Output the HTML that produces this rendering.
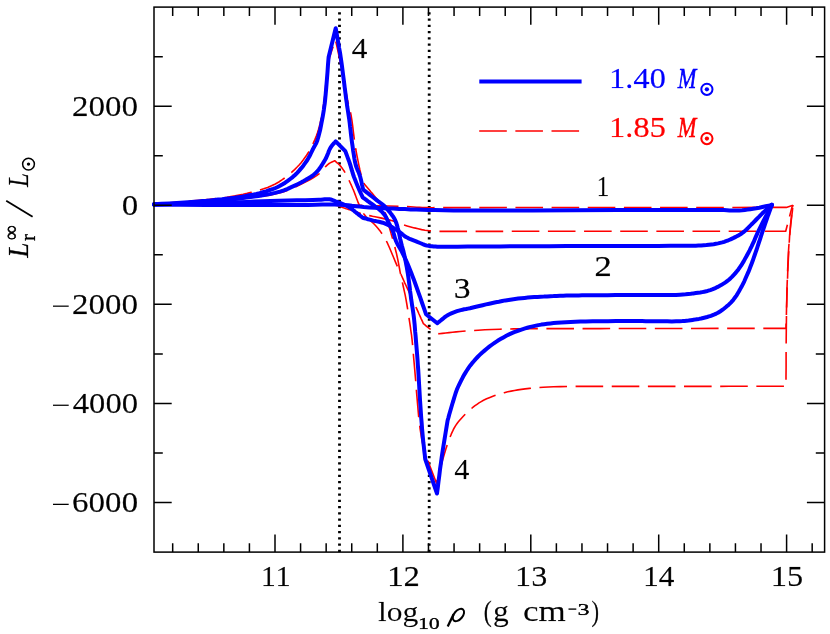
<!DOCTYPE html>
<html><head><meta charset="utf-8"><title>L_r vs log rho</title>
<style>html,body{margin:0;padding:0;background:#fff;}body{width:830px;height:634px;overflow:hidden;font-family:"Liberation Serif",serif;}svg{display:block;}text{font-family:"Liberation Serif",serif;font-kerning:none;}</style>
</head><body>
<svg width="830" height="634" viewBox="0 0 830 634">
<rect x="0" y="0" width="830" height="634" fill="#ffffff"/>
<line x1="339.5" y1="12.28" x2="339.5" y2="552.1" stroke="#000" stroke-width="2.8" stroke-dasharray="2.1 4.15" fill="none"/>
<line x1="429.2" y1="12.28" x2="429.2" y2="552.1" stroke="#000" stroke-width="2.8" stroke-dasharray="2.1 4.15" fill="none"/>
<polyline points="154.0,205.0 186.1,205.0 219.5,204.9 252.9,204.8 284.9,204.8 314.4,204.8 340.0,205.0 353.5,205.2 366.2,205.4 377.9,205.7 388.6,206.0 398.2,206.3 406.5,206.6 410.3,206.8 413.6,207.0 416.6,207.2 419.4,207.3 422.2,207.5 425.0,207.6 427.6,207.6 430.1,207.7 432.6,207.7 435.1,207.6 437.5,207.6 440.0,207.6 786.3,207.4 792.9,205.3" stroke="#ff0000" stroke-width="1.6" fill="none" stroke-dasharray="27.6 8.55" stroke-linejoin="round"/>
<polyline points="154.0,205.0 170.4,205.0 187.1,205.0 203.9,205.0 220.3,205.0 235.8,205.0 250.0,205.0 259.4,205.0 268.2,205.0 276.6,205.0 284.6,205.0 292.4,205.0 300.0,205.0 306.4,204.9 312.9,204.7 319.2,204.5 325.2,204.4 330.5,204.6 335.0,205.0 337.1,205.4 338.9,206.0 340.5,206.5 342.0,207.2 343.5,207.8 345.0,208.3 346.2,208.7 347.4,209.0 348.5,209.4 349.6,209.7 350.7,210.1 352.0,210.5 353.8,211.1 355.8,211.8 357.9,212.5 360.0,213.2 361.9,213.8 363.7,214.3 364.7,214.6 365.6,214.8 366.5,215.0 367.4,215.1 368.3,215.3 369.5,215.6 372.5,216.3 376.3,217.0 380.5,217.9 384.8,218.9 388.9,219.9 392.4,220.8 394.5,221.5 396.4,222.2 398.2,222.9 399.9,223.6 401.8,224.3 403.9,225.0 407.1,225.9 410.7,226.9 414.4,227.9 418.1,228.8 421.7,229.6 425.0,230.2 427.2,230.5 429.2,230.8 431.2,230.9 433.1,231.1 435.0,231.2 437.0,231.4 464.0,231.4 490.9,231.4 517.8,231.3 544.9,231.3 572.2,231.3 600.0,231.3 630.2,231.3 661.0,231.3 692.1,231.2 723.4,231.2 754.6,231.2 785.7,231.2 792.3,206.0" stroke="#ff0000" stroke-width="1.6" fill="none" stroke-dasharray="27.6 8.55" stroke-linejoin="round"/>
<polyline points="154.0,204.6 161.7,204.4 169.3,204.2 177.0,204.0 184.7,203.8 192.3,203.4 200.0,203.0 207.8,202.4 215.6,201.7 223.4,201.0 231.2,200.1 238.7,199.2 246.0,198.3 252.1,197.5 258.1,196.8 263.9,196.0 269.6,195.1 275.0,194.0 280.0,192.8 283.7,191.7 287.2,190.5 290.4,189.2 293.6,187.8 296.8,186.3 300.0,184.8 303.4,183.1 306.8,181.3 310.3,179.5 313.6,177.5 316.6,175.6 319.3,173.6 321.0,172.0 322.6,170.4 324.0,168.7 325.3,167.0 326.6,165.6 328.0,164.3 329.1,163.5 330.2,162.9 331.4,162.3 332.5,161.8 333.6,161.3 334.7,160.7 335.5,161.4 336.3,162.1 337.1,162.8 337.9,163.5 338.7,164.2 339.5,165.0 340.3,165.9 341.2,166.9 342.0,167.9 342.7,169.0 343.5,170.1 344.3,171.3 345.2,172.9 346.2,174.6 347.1,176.4 348.0,178.2 348.9,180.0 349.7,181.8 350.5,183.5 351.3,185.2 352.0,186.8 352.7,188.5 353.5,190.2 354.2,192.0 355.0,194.1 355.8,196.2 356.6,198.4 357.4,200.5 358.2,202.7 359.1,204.7 359.9,206.4 360.6,208.1 361.4,209.8 362.2,211.4 363.2,213.0 364.3,214.6 365.9,216.5 367.7,218.3 369.8,220.1 371.8,221.9 373.8,223.7 375.5,225.5 376.8,227.0 378.1,228.5 379.3,230.1 380.5,231.6 381.5,233.0 382.5,234.4 383.2,235.4 383.8,236.3 384.3,237.2 384.9,238.1 385.4,239.1 386.1,240.4 387.7,243.7 389.5,247.8 391.5,252.5 393.5,257.3 395.5,262.1 397.4,266.4 398.9,269.7 400.3,272.9 401.7,276.0 403.1,279.1 404.5,282.3 406.0,285.5 407.7,289.2 409.5,293.0 411.3,296.9 413.1,300.8 414.8,304.6 416.4,308.1 417.7,310.9 418.8,313.5 420.0,316.1 421.1,318.6 422.3,321.1 423.4,323.7 424.7,324.7 426.0,325.8 427.3,326.9 428.6,327.9 429.9,328.9 431.2,329.8 432.5,330.6 433.8,331.3 435.1,331.9 436.4,332.5 437.7,333.2 439.0,333.8 442.4,333.4 445.7,333.0 449.1,332.6 452.5,332.2 456.1,331.9 460.0,331.5 465.7,331.0 471.7,330.6 478.1,330.2 484.9,329.8 492.1,329.5 500.0,329.2 513.7,328.9 528.9,328.7 545.3,328.6 562.7,328.6 581.0,328.6 600.0,328.6 627.7,328.5 657.8,328.5 689.4,328.5 721.9,328.4 754.3,328.4 786.0,328.4 786.1,323.7 786.3,319.1 786.4,314.5 786.5,309.8 786.6,305.0 786.8,300.0 787.0,293.7 787.2,287.1 787.5,280.3 787.7,273.4 788.0,266.6 788.3,260.0 788.6,253.9 788.9,247.8 789.3,241.7 789.6,235.9 790.1,230.2 790.5,225.0 790.9,221.3 791.3,217.9 791.7,214.6 792.1,211.5 792.6,208.3 793.0,205.0" stroke="#ff0000" stroke-width="1.6" fill="none" stroke-dasharray="27.6 8.55" stroke-linejoin="round" stroke-dashoffset="1.3"/>
<polyline points="154.0,204.3 161.8,203.6 169.8,202.9 177.8,202.2 185.6,201.6 193.0,200.9 200.0,200.2 204.9,199.7 209.6,199.3 214.1,198.8 218.4,198.3 222.7,197.8 227.0,197.2 231.1,196.5 235.2,195.9 239.2,195.1 243.2,194.3 247.2,193.4 251.2,192.4 255.3,191.3 259.4,190.1 263.6,188.8 267.6,187.4 271.5,185.8 275.3,184.0 278.8,182.0 282.3,179.7 285.6,177.3 288.8,174.8 291.8,172.2 294.6,169.6 296.9,167.3 299.1,165.0 301.1,162.7 303.0,160.3 304.8,157.8 306.6,155.2 308.5,152.2 310.2,149.1 311.9,145.9 313.5,142.7 315.0,139.4 316.3,136.1 317.4,133.0 318.4,129.8 319.3,126.6 320.1,123.4 320.8,120.2 321.5,117.0 322.1,113.9 322.7,110.9 323.1,107.9 323.6,104.8 324.0,101.5 324.5,98.0 325.1,92.6 325.6,86.5 326.2,80.1 326.8,73.7 327.5,67.6 328.5,62.0 329.5,58.0 330.6,54.2 331.8,50.6 333.0,47.1 334.3,43.6 335.5,40.0 336.8,45.9 338.1,51.9 339.4,57.9 340.7,63.8 341.9,69.5 343.0,75.0 343.8,79.5 344.6,83.9 345.3,88.1 346.1,92.3 346.8,96.2 347.5,100.0 348.1,102.7 348.7,105.2 349.3,107.5 349.9,109.9 350.5,112.5 351.1,115.4 351.9,120.4 352.7,126.1 353.4,132.1 354.2,138.3 355.0,144.3 355.9,150.0 356.8,154.9 357.8,159.9 358.8,164.8 359.8,169.5 360.8,173.6 361.7,177.0 362.1,178.4 362.6,179.7 363.0,180.8 363.4,181.8 363.9,182.8 364.3,183.9 366.0,185.9 367.7,187.9 369.4,190.0 371.0,192.0 372.7,193.9 374.2,195.8 375.4,197.2 376.6,198.6 377.8,199.9 378.9,201.2 380.0,202.5 381.0,204.0 382.0,205.7 382.9,207.4 383.7,209.3 384.5,211.2 385.3,213.1 386.0,215.0 386.7,217.1 387.3,219.2 387.9,221.4 388.4,223.7 388.9,225.8 389.5,228.0 390.1,230.0 390.7,232.0 391.2,233.9 391.8,235.9 392.4,237.9 393.0,240.0 393.7,242.5 394.4,245.1 395.0,247.8 395.7,250.5 396.4,253.2 397.0,256.0 397.7,259.1 398.3,262.2 398.9,265.3 399.5,268.5 400.1,271.8 400.8,275.1 401.6,279.0 402.5,282.9 403.4,287.0 404.3,291.1 405.2,295.2 406.0,299.4 406.8,304.0 407.6,308.9 408.4,313.8 409.1,318.6 409.8,323.2 410.4,327.2 410.7,329.6 411.0,331.6 411.3,333.6 411.6,335.5 411.8,337.6 412.1,340.0 412.5,344.1 412.9,348.4 413.3,353.2 413.7,358.2 414.2,363.6 414.7,369.4 415.6,379.7 416.5,391.6 417.6,404.4 418.7,417.1 420.1,428.8 421.7,438.8 422.8,444.0 424.1,448.6 425.4,452.8 426.8,456.8 428.2,460.9 429.5,465.1 436.5,483.3 437.2,480.4 438.0,477.5 438.7,474.6 439.5,471.8 440.2,468.9 441.0,466.0 441.8,463.1 442.6,460.1 443.5,457.1 444.3,454.2 445.2,451.3 446.0,448.6 446.7,446.4 447.4,444.3 448.1,442.3 448.8,440.3 449.6,438.4 450.3,436.5 451.0,434.9 451.6,433.3 452.3,431.8 453.0,430.4 453.7,428.9 454.5,427.5 455.3,426.2 456.1,424.9 456.9,423.7 457.8,422.5 458.8,421.3 459.9,420.0 461.5,418.2 463.3,416.3 465.2,414.3 467.2,412.4 469.2,410.5 471.2,408.8 473.1,407.2 475.0,405.7 477.0,404.3 479.0,402.9 481.2,401.6 483.5,400.3 486.6,398.8 489.9,397.4 493.5,396.1 497.1,394.8 500.7,393.7 504.3,392.7 507.7,391.8 511.1,391.1 514.5,390.5 517.9,389.9 521.4,389.4 525.1,388.9 529.5,388.4 534.0,388.0 538.6,387.6 543.3,387.3 548.3,387.0 553.5,386.8 560.4,386.6 567.5,386.5 574.9,386.4 582.8,386.4 591.1,386.4 600.0,386.4 614.6,386.4 630.8,386.4 648.1,386.4 665.8,386.4 683.3,386.4 700.0,386.4 714.7,386.4 729.1,386.3 743.4,386.3 757.6,386.3 771.7,386.2 786.0,386.2 786.0,376.8 786.1,367.3 786.1,357.9 786.1,348.5 786.2,339.2 786.3,330.0 786.4,321.4 786.5,312.9 786.7,304.5 786.8,296.1 787.0,288.0 787.3,280.0 787.5,273.0 787.8,266.2 788.1,259.5 788.4,253.0 788.8,246.5 789.3,240.0 789.8,234.0 790.4,228.2 791.0,222.3 791.7,216.6 792.4,210.8 793.0,205.0" stroke="#ff0000" stroke-width="1.6" fill="none" stroke-dasharray="27.6 8.55" stroke-linejoin="round" stroke-dashoffset="1.3"/>
<polyline points="154.0,204.8 179.4,204.8 206.0,204.9 232.7,205.0 258.1,205.0 281.0,205.0 300.0,205.0 308.2,204.9 315.6,204.8 322.2,204.6 328.4,204.5 334.2,204.5 340.0,204.7 344.3,205.0 348.2,205.3 351.9,205.8 355.7,206.2 359.5,206.6 363.7,207.0 369.2,207.4 375.0,207.7 381.0,208.1 387.1,208.4 393.2,208.6 399.2,208.9 405.0,209.1 410.6,209.4 416.3,209.6 422.1,209.8 428.2,210.0 434.7,210.1 444.0,210.3 453.6,210.4 463.7,210.4 474.7,210.5 486.7,210.5 500.0,210.5 532.1,210.5 573.0,210.3 617.5,210.1 660.4,210.0 696.3,209.9 720.0,210.0 723.9,210.1 726.9,210.2 729.5,210.4 731.8,210.5 734.1,210.5 736.6,210.5 739.3,210.4 742.1,210.2 744.8,209.9 747.5,209.6 750.3,209.2 753.1,208.8 756.2,208.3 759.3,207.7 762.4,207.0 765.6,206.3 768.8,205.6 771.9,204.9" stroke="#0000ff" stroke-width="4.0" fill="none" stroke-linejoin="round" stroke-linecap="round"/>
<polyline points="154.0,204.3 165.5,204.1 177.1,203.9 188.7,203.7 200.2,203.4 211.3,203.2 222.0,202.9 230.6,202.6 238.8,202.3 246.8,201.9 254.6,201.6 262.5,201.3 270.5,201.0 278.9,200.8 287.9,200.5 296.8,200.3 305.2,200.2 312.7,200.0 318.7,199.8 321.0,199.7 323.0,199.5 324.7,199.3 326.4,199.2 327.9,199.2 329.5,199.3 330.8,199.5 332.0,199.9 333.2,200.3 334.4,200.8 335.6,201.3 336.7,201.7 337.7,202.1 338.8,202.5 339.8,202.8 340.8,203.2 341.8,203.7 342.8,204.1 344.0,204.6 345.2,205.2 346.4,205.8 347.7,206.4 348.9,207.0 350.0,207.7 351.1,208.4 352.1,209.2 353.0,210.0 354.0,210.8 355.0,211.7 356.0,212.5 357.1,213.4 358.2,214.2 359.3,215.1 360.5,216.0 361.6,216.8 362.7,217.7 364.5,218.2 366.2,218.7 368.0,219.2 369.7,219.6 371.5,220.1 373.3,220.6 375.2,221.0 377.0,221.4 378.9,221.8 380.8,222.2 382.7,222.7 384.6,223.4 387.0,224.5 389.6,225.8 392.2,227.3 394.7,228.9 397.1,230.4 399.2,231.8 400.5,232.7 401.6,233.6 402.6,234.5 403.6,235.3 404.7,236.2 406.0,237.0 408.1,238.1 410.4,239.2 412.9,240.2 415.5,241.2 417.9,242.2 420.0,243.0 421.3,243.5 422.4,244.0 423.5,244.5 424.6,244.9 425.7,245.3 426.9,245.6 428.5,245.9 430.2,246.2 432.0,246.3 433.7,246.5 435.5,246.6 437.3,246.8 447.6,246.7 457.7,246.7 467.7,246.6 478.0,246.5 488.7,246.5 500.0,246.4 515.5,246.3 532.0,246.3 549.2,246.2 566.6,246.1 583.7,246.1 600.0,246.0 614.6,246.0 629.6,245.9 644.4,245.9 658.2,245.9 670.3,245.8 680.0,245.8 683.3,245.8 686.2,245.8 688.7,245.8 691.0,245.8 693.3,245.8 695.8,245.7 698.4,245.6 701.1,245.5 703.8,245.3 706.4,245.1 709.0,244.8 711.5,244.5 713.7,244.2 715.9,243.8 718.1,243.4 720.2,242.9 722.2,242.4 724.2,241.8 725.9,241.2 727.5,240.7 729.0,240.0 730.5,239.4 732.1,238.6 733.6,237.9 735.2,237.1 736.8,236.3 738.4,235.4 740.0,234.5 741.6,233.5 743.1,232.4 744.8,231.0 746.5,229.5 748.1,227.9 749.8,226.2 751.4,224.5 753.1,222.8 754.9,221.0 756.8,219.0 758.7,217.1 760.6,215.1 762.4,213.3 764.2,211.6 765.5,210.4 766.8,209.2 768.1,208.1 769.4,207.1 770.6,206.0 771.9,204.9" stroke="#0000ff" stroke-width="4.0" fill="none" stroke-linejoin="round" stroke-linecap="round"/>
<polyline points="154.0,204.5 161.7,204.2 169.3,203.9 177.0,203.7 184.7,203.4 192.3,203.0 200.0,202.5 207.8,201.9 215.7,201.2 223.7,200.4 231.5,199.5 239.1,198.6 246.4,197.6 252.4,196.8 258.4,195.9 264.1,195.0 269.7,194.1 275.0,192.9 280.0,191.6 283.9,190.3 287.7,188.8 291.3,187.2 294.7,185.6 297.6,184.2 300.0,183.0 300.9,182.6 301.6,182.2 302.2,181.9 302.8,181.5 303.4,181.2 304.2,180.7 305.8,179.8 307.6,178.7 309.6,177.6 311.6,176.3 313.6,174.8 315.4,173.3 317.2,171.4 319.0,169.2 320.7,166.9 322.2,164.5 323.7,162.1 325.1,159.8 326.2,157.7 327.2,155.4 328.1,153.2 328.9,151.0 329.8,149.0 330.8,147.2 331.6,146.1 332.4,145.0 333.2,144.1 334.0,143.2 334.9,142.3 335.7,141.4 345.3,151.1 346.1,153.3 346.9,155.4 347.7,157.6 348.5,159.8 349.3,161.9 350.0,164.0 350.6,165.9 351.1,167.7 351.6,169.5 352.2,171.3 352.7,173.2 353.3,175.0 354.0,177.0 354.8,179.0 355.6,181.0 356.4,183.1 357.2,185.1 358.0,187.0 358.8,188.8 359.5,190.5 360.3,192.3 361.1,194.0 361.9,195.7 362.7,197.4 364.3,198.5 365.9,199.7 367.4,200.8 369.0,202.0 370.6,203.1 372.1,204.2 373.5,205.2 375.0,206.3 376.5,207.3 377.9,208.3 379.2,209.4 380.4,210.4 381.3,211.2 382.2,212.1 382.9,212.9 383.7,213.8 384.4,214.6 385.1,215.6 385.8,216.7 386.4,217.9 387.0,219.1 387.6,220.4 388.2,221.6 388.8,222.9 389.5,224.3 390.2,225.6 390.9,227.0 391.6,228.4 392.3,229.8 392.9,231.3 393.5,232.9 393.9,234.4 394.4,236.0 394.8,237.7 395.4,239.3 396.0,241.0 397.0,243.1 398.1,245.2 399.4,247.4 400.6,249.6 401.9,251.8 403.0,254.0 404.0,256.0 404.9,258.0 405.8,259.9 406.7,261.9 407.6,263.9 408.5,266.0 409.5,268.5 410.5,270.9 411.5,273.5 412.5,276.2 413.6,279.0 414.7,282.0 416.4,286.7 418.2,291.9 420.2,297.4 422.1,303.0 424.1,308.7 426.0,314.2 437.3,323.2 439.0,321.8 440.7,320.5 442.4,319.1 444.1,317.7 445.8,316.4 447.6,315.3 449.4,314.3 451.3,313.4 453.2,312.6 455.1,311.9 457.0,311.2 458.9,310.6 460.7,310.1 462.5,309.7 464.2,309.3 466.1,309.0 468.0,308.6 470.0,308.2 472.9,307.5 476.0,306.8 479.3,306.0 482.7,305.2 486.0,304.4 489.3,303.7 492.5,303.0 495.7,302.3 498.9,301.7 502.2,301.0 505.4,300.4 508.6,299.9 511.8,299.4 515.0,299.0 518.2,298.6 521.4,298.2 524.6,297.9 527.8,297.6 531.0,297.3 534.2,297.1 537.4,296.9 540.7,296.7 543.9,296.6 547.1,296.4 550.3,296.2 553.5,296.1 556.7,295.9 560.0,295.8 563.2,295.7 566.4,295.6 569.5,295.5 572.5,295.5 575.6,295.4 578.7,295.4 582.0,295.3 585.7,295.3 592.2,295.2 599.6,295.2 607.6,295.2 615.6,295.1 623.2,295.1 630.0,295.1 634.3,295.1 638.3,295.1 642.1,295.1 645.8,295.1 649.6,295.1 653.5,295.1 657.9,295.1 662.5,295.1 667.1,295.0 671.6,295.0 676.0,294.9 680.0,294.7 682.9,294.5 685.6,294.3 688.3,294.0 690.8,293.8 693.3,293.4 695.8,293.1 698.0,292.8 700.2,292.5 702.3,292.1 704.3,291.7 706.4,291.3 708.4,290.7 710.3,290.1 712.2,289.4 714.1,288.6 715.9,287.8 717.7,286.9 719.4,286.0 721.1,285.1 722.7,284.1 724.3,283.1 725.8,282.1 727.4,280.9 728.9,279.7 730.6,278.2 732.2,276.6 733.8,274.9 735.4,273.1 736.9,271.3 738.4,269.4 739.8,267.4 741.2,265.4 742.5,263.2 743.8,261.1 745.0,258.9 746.2,256.8 747.3,254.7 748.4,252.7 749.5,250.6 750.5,248.5 751.6,246.4 752.6,244.2 753.7,241.9 754.7,239.5 755.7,237.1 756.8,234.7 757.8,232.3 758.9,230.0 760.0,227.8 761.1,225.6 762.2,223.4 763.3,221.3 764.4,219.1 765.5,217.0 766.6,215.0 767.6,212.9 768.7,210.9 769.8,208.9 770.8,206.9 771.9,204.9" stroke="#0000ff" stroke-width="4.0" fill="none" stroke-linejoin="round" stroke-linecap="round"/>
<polyline points="154.0,204.3 161.5,203.8 169.2,203.4 176.8,202.9 184.3,202.5 191.4,202.0 198.0,201.5 202.4,201.1 206.5,200.8 210.5,200.4 214.3,200.0 218.1,199.6 222.0,199.2 226.0,198.7 230.1,198.3 234.2,197.8 238.2,197.2 242.1,196.7 246.0,196.0 249.5,195.3 253.0,194.6 256.4,193.9 259.7,193.1 262.9,192.2 266.0,191.3 268.5,190.5 270.9,189.7 273.2,188.9 275.5,188.0 277.7,187.0 280.0,185.8 282.6,184.3 285.2,182.7 287.7,180.9 290.2,179.0 292.7,177.1 295.0,175.0 297.2,172.8 299.4,170.4 301.5,167.9 303.5,165.4 305.3,162.9 307.0,160.5 308.2,158.5 309.3,156.6 310.3,154.6 311.2,152.7 312.1,150.8 313.0,149.0 313.8,147.6 314.5,146.2 315.3,144.9 316.0,143.6 316.6,142.2 317.3,140.5 318.2,137.5 319.1,134.1 320.0,130.5 320.8,126.7 321.5,122.9 322.2,119.3 322.8,116.1 323.3,113.1 323.8,110.1 324.2,107.0 324.7,103.7 325.1,100.0 325.7,93.9 326.3,87.0 326.9,79.7 327.5,72.2 328.0,64.6 328.6,57.3 335.7,28.2 336.6,33.1 337.4,38.0 338.3,42.9 339.1,47.8 340.0,52.6 340.7,57.3 341.3,61.4 341.9,65.5 342.4,69.5 342.9,73.4 343.4,77.2 343.9,81.0 344.3,84.3 344.7,87.5 345.1,90.6 345.5,93.7 345.9,96.9 346.3,100.0 346.8,103.2 347.2,106.4 347.7,109.5 348.2,112.7 348.7,116.0 349.2,119.3 349.7,123.0 350.1,126.8 350.6,130.7 351.0,134.6 351.5,138.5 352.0,142.4 352.6,146.4 353.1,150.5 353.8,154.6 354.4,158.6 355.1,162.3 355.9,165.5 356.5,167.3 357.1,168.9 357.7,170.4 358.4,171.8 359.0,173.3 359.6,175.0 360.3,177.2 360.9,179.6 361.5,182.1 362.0,184.6 362.6,187.1 363.2,189.6 365.2,191.2 367.3,192.8 369.3,194.4 371.3,196.0 373.3,197.5 375.2,199.0 376.9,200.3 378.5,201.5 380.1,202.7 381.7,203.8 383.2,205.0 384.6,206.3 385.8,207.5 386.9,208.7 387.9,209.9 388.9,211.1 389.9,212.3 390.8,213.5 391.6,214.5 392.3,215.5 393.1,216.5 393.7,217.6 394.4,218.6 395.0,219.8 395.6,221.2 396.2,222.7 396.7,224.3 397.2,225.9 397.6,227.5 398.1,229.2 398.6,231.1 399.0,233.0 399.4,234.9 399.8,236.9 400.2,238.9 400.7,241.0 401.3,243.4 401.9,245.8 402.6,248.3 403.3,250.8 403.9,253.4 404.5,256.0 405.1,258.8 405.7,261.6 406.2,264.4 406.8,267.3 407.3,270.3 407.8,273.4 408.4,277.5 409.0,281.9 409.6,286.4 410.1,290.9 410.7,295.3 411.2,299.4 411.7,302.5 412.1,305.4 412.6,308.2 413.0,310.9 413.4,313.8 413.8,316.8 414.2,320.4 414.6,324.2 414.9,328.0 415.2,331.9 415.6,335.9 415.9,340.0 416.3,344.7 416.7,349.5 417.1,354.4 417.5,359.4 417.8,364.4 418.2,369.4 418.5,374.4 418.8,379.5 419.1,384.5 419.4,389.6 419.7,394.8 420.0,400.0 420.4,405.7 420.8,411.6 421.2,417.6 421.7,423.5 422.1,429.3 422.6,434.7 423.0,439.0 423.4,443.1 423.9,447.1 424.3,451.1 424.8,455.0 425.2,459.0 437.0,493.5 437.8,487.5 438.5,481.4 439.3,475.4 440.0,469.4 440.9,463.3 441.7,457.3 442.6,451.2 443.6,445.0 444.6,438.9 445.6,432.8 446.6,426.6 447.6,420.5 448.4,417.8 449.1,415.0 449.9,412.3 450.7,409.5 451.5,406.8 452.3,404.0 453.2,401.2 454.0,398.4 454.9,395.5 455.8,392.7 456.8,389.8 458.0,387.0 459.5,383.8 461.1,380.6 462.8,377.3 464.6,374.1 466.5,371.0 468.4,368.1 470.1,365.7 471.9,363.4 473.8,361.2 475.6,359.1 477.6,357.0 479.7,354.9 482.0,352.7 484.5,350.6 487.0,348.5 489.6,346.4 492.2,344.5 494.9,342.6 497.6,340.8 500.5,339.1 503.4,337.4 506.3,335.8 509.1,334.4 511.9,333.1 514.2,332.1 516.4,331.3 518.6,330.5 520.7,329.8 522.9,329.1 525.1,328.4 527.3,327.8 529.4,327.2 531.6,326.6 533.8,326.1 536.0,325.6 538.4,325.1 541.3,324.6 544.2,324.2 547.2,323.8 550.4,323.4 553.6,323.1 557.0,322.8 561.3,322.5 565.9,322.2 570.6,322.0 575.4,321.8 580.5,321.6 585.7,321.5 592.7,321.3 600.3,321.2 608.1,321.2 615.9,321.1 623.3,321.1 630.0,321.1 634.3,321.1 638.3,321.1 642.1,321.1 645.8,321.2 649.6,321.2 653.5,321.2 657.9,321.2 662.6,321.3 667.3,321.3 671.8,321.4 676.1,321.3 680.0,321.2 682.4,321.1 684.5,320.9 686.6,320.7 688.6,320.5 690.6,320.2 692.6,319.9 694.7,319.6 696.8,319.2 699.0,318.9 701.1,318.5 703.2,318.0 705.2,317.5 707.1,317.0 709.0,316.4 710.9,315.8 712.7,315.1 714.5,314.4 716.3,313.6 718.0,312.7 719.6,311.7 721.2,310.7 722.7,309.6 724.2,308.5 725.7,307.3 727.1,306.1 728.5,304.9 729.8,303.6 731.1,302.3 732.4,300.9 733.6,299.4 735.0,297.5 736.4,295.6 737.7,293.5 739.0,291.3 740.2,289.1 741.5,286.8 742.9,284.1 744.3,281.3 745.6,278.3 746.9,275.3 748.2,272.4 749.4,269.4 750.5,266.5 751.6,263.7 752.7,260.8 753.7,257.9 754.7,255.0 755.7,252.1 756.8,249.0 757.8,245.8 758.9,242.5 760.0,239.3 761.0,236.2 762.0,233.2 762.8,230.7 763.6,228.3 764.4,226.0 765.2,223.7 766.0,221.3 766.8,219.0 767.6,216.6 768.5,214.3 769.3,211.9 770.2,209.6 771.0,207.2 771.9,204.9" stroke="#0000ff" stroke-width="4.0" fill="none" stroke-linejoin="round" stroke-linecap="round"/>
<rect x="154.0" y="7.1" width="670.6" height="545.0" fill="none" stroke="#000" stroke-width="1.5"/>
<path d="M172.68 552.1 v-8.8 M172.68 7.1 v8.8 M198.26 552.1 v-8.8 M198.26 7.1 v8.8 M223.84 552.1 v-8.8 M223.84 7.1 v8.8 M249.42 552.1 v-8.8 M249.42 7.1 v8.8 M275.00 552.1 v-17.7 M275.00 7.1 v17.7 M300.58 552.1 v-8.8 M300.58 7.1 v8.8 M326.16 552.1 v-8.8 M326.16 7.1 v8.8 M351.74 552.1 v-8.8 M351.74 7.1 v8.8 M377.32 552.1 v-8.8 M377.32 7.1 v8.8 M402.90 552.1 v-17.7 M402.90 7.1 v17.7 M428.48 552.1 v-8.8 M428.48 7.1 v8.8 M454.06 552.1 v-8.8 M454.06 7.1 v8.8 M479.64 552.1 v-8.8 M479.64 7.1 v8.8 M505.22 552.1 v-8.8 M505.22 7.1 v8.8 M530.80 552.1 v-17.7 M530.80 7.1 v17.7 M556.38 552.1 v-8.8 M556.38 7.1 v8.8 M581.96 552.1 v-8.8 M581.96 7.1 v8.8 M607.54 552.1 v-8.8 M607.54 7.1 v8.8 M633.12 552.1 v-8.8 M633.12 7.1 v8.8 M658.70 552.1 v-17.7 M658.70 7.1 v17.7 M684.28 552.1 v-8.8 M684.28 7.1 v8.8 M709.86 552.1 v-8.8 M709.86 7.1 v8.8 M735.44 552.1 v-8.8 M735.44 7.1 v8.8 M761.02 552.1 v-8.8 M761.02 7.1 v8.8 M786.60 552.1 v-17.7 M786.60 7.1 v17.7 M812.18 552.1 v-8.8 M812.18 7.1 v8.8 M154.0 502.55 h17.7 M824.6 502.55 h-17.7 M154.0 453.01 h8.8 M824.6 453.01 h-8.8 M154.0 403.46 h17.7 M824.6 403.46 h-17.7 M154.0 353.92 h8.8 M824.6 353.92 h-8.8 M154.0 304.37 h17.7 M824.6 304.37 h-17.7 M154.0 254.83 h8.8 M824.6 254.83 h-8.8 M154.0 205.28 h17.7 M824.6 205.28 h-17.7 M154.0 155.74 h8.8 M824.6 155.74 h-8.8 M154.0 106.19 h17.7 M824.6 106.19 h-17.7 M154.0 56.65 h8.8 M824.6 56.65 h-8.8" stroke="#000" stroke-width="1.5" fill="none"/>
<mask id="m1" maskUnits="userSpaceOnUse" x="67.4" y="93.0" width="75.5" height="27.4"><text transform="translate(72.17,116.09) scale(1.1536,1.0000)" font-size="28.7" fill="#fff" stroke="#fff" stroke-width="0.45">2000</text></mask>
<g mask="url(#m1)"><text transform="translate(71.72,116.09) scale(1.1536,1.0000)" font-size="28.7" fill="#000" stroke="#000" stroke-width="0.45">2000</text></g>
<mask id="m2" maskUnits="userSpaceOnUse" x="117.1" y="192.1" width="25.8" height="27.4"><text transform="translate(122.09,215.18) scale(1.1340,1.0000)" font-size="28.7" fill="#fff" stroke="#fff" stroke-width="0.45">0</text></mask>
<g mask="url(#m2)"><text transform="translate(121.64,215.18) scale(1.1340,1.0000)" font-size="28.7" fill="#000" stroke="#000" stroke-width="0.45">0</text></g>
<mask id="m3" maskUnits="userSpaceOnUse" x="67.4" y="291.2" width="75.5" height="27.4"><text transform="translate(72.17,314.27) scale(1.1536,1.0000)" font-size="28.7" fill="#fff" stroke="#fff" stroke-width="0.45">2000</text></mask>
<g mask="url(#m3)"><text transform="translate(71.72,314.27) scale(1.1536,1.0000)" font-size="28.7" fill="#000" stroke="#000" stroke-width="0.45">2000</text></g>
<line x1="53.0" y1="306.17" x2="68.7" y2="306.17" stroke="#000" stroke-width="1.25"/>
<mask id="m4" maskUnits="userSpaceOnUse" x="67.4" y="390.3" width="75.5" height="27.4"><text transform="translate(72.97,413.36) scale(1.1393,1.0000)" font-size="28.7" fill="#fff" stroke="#fff" stroke-width="0.45">4000</text></mask>
<g mask="url(#m4)"><text transform="translate(72.52,413.36) scale(1.1393,1.0000)" font-size="28.7" fill="#000" stroke="#000" stroke-width="0.45">4000</text></g>
<line x1="53.0" y1="405.26" x2="68.7" y2="405.26" stroke="#000" stroke-width="1.25"/>
<mask id="m5" maskUnits="userSpaceOnUse" x="67.4" y="489.4" width="75.5" height="27.4"><text transform="translate(72.20,512.45) scale(1.1530,1.0000)" font-size="28.7" fill="#fff" stroke="#fff" stroke-width="0.45">6000</text></mask>
<g mask="url(#m5)"><text transform="translate(71.75,512.45) scale(1.1530,1.0000)" font-size="28.7" fill="#000" stroke="#000" stroke-width="0.45">6000</text></g>
<line x1="53.0" y1="504.35" x2="68.7" y2="504.35" stroke="#000" stroke-width="1.25"/>
<mask id="m6" maskUnits="userSpaceOnUse" x="257.6" y="562.8" width="37.3" height="26.9"><text transform="translate(261.16,585.70) scale(1.0347,1.0000)" font-size="28.7" fill="#fff" stroke="#fff" stroke-width="0.45">11</text></mask>
<g mask="url(#m6)"><text transform="translate(260.71,585.70) scale(1.0347,1.0000)" font-size="28.7" fill="#000" stroke="#000" stroke-width="0.45">11</text></g>
<mask id="m7" maskUnits="userSpaceOnUse" x="384.0" y="562.7" width="40.2" height="27.0"><text transform="translate(387.33,585.70) scale(1.1465,1.0000)" font-size="28.7" fill="#fff" stroke="#fff" stroke-width="0.45">12</text></mask>
<g mask="url(#m7)"><text transform="translate(386.88,585.70) scale(1.1465,1.0000)" font-size="28.7" fill="#000" stroke="#000" stroke-width="0.45">12</text></g>
<mask id="m8" maskUnits="userSpaceOnUse" x="511.9" y="562.7" width="40.2" height="27.3"><text transform="translate(515.28,585.70) scale(1.1255,1.0000)" font-size="28.7" fill="#fff" stroke="#fff" stroke-width="0.45">13</text></mask>
<g mask="url(#m8)"><text transform="translate(514.83,585.70) scale(1.1255,1.0000)" font-size="28.7" fill="#000" stroke="#000" stroke-width="0.45">13</text></g>
<mask id="m9" maskUnits="userSpaceOnUse" x="639.8" y="562.8" width="40.2" height="26.9"><text transform="translate(643.26,585.70) scale(1.0966,1.0000)" font-size="28.7" fill="#fff" stroke="#fff" stroke-width="0.45">14</text></mask>
<g mask="url(#m9)"><text transform="translate(642.81,585.70) scale(1.0966,1.0000)" font-size="28.7" fill="#000" stroke="#000" stroke-width="0.45">14</text></g>
<mask id="m10" maskUnits="userSpaceOnUse" x="767.7" y="562.8" width="40.2" height="27.2"><text transform="translate(771.08,585.70) scale(1.1255,1.0000)" font-size="28.7" fill="#fff" stroke="#fff" stroke-width="0.45">15</text></mask>
<g mask="url(#m10)"><text transform="translate(770.63,585.70) scale(1.1255,1.0000)" font-size="28.7" fill="#000" stroke="#000" stroke-width="0.45">15</text></g>
<mask id="m11" maskUnits="userSpaceOnUse" x="346.4" y="34.9" width="26.6" height="26.9"><text transform="translate(352.00,57.80) scale(1.0964,1.0000)" font-size="28.7" fill="#fff" stroke="#fff" stroke-width="0.45">4</text></mask>
<g mask="url(#m11)"><text transform="translate(351.55,57.80) scale(1.0964,1.0000)" font-size="28.7" fill="#000" stroke="#000" stroke-width="0.45">4</text></g>
<mask id="m12" maskUnits="userSpaceOnUse" x="592.7" y="173.0" width="21.0" height="26.9"><text transform="translate(596.68,195.90) scale(0.8909,1.0000)" font-size="28.7" fill="#fff" stroke="#fff" stroke-width="0.45">1</text></mask>
<g mask="url(#m12)"><text transform="translate(596.23,195.90) scale(0.8909,1.0000)" font-size="28.7" fill="#000" stroke="#000" stroke-width="0.45">1</text></g>
<mask id="m13" maskUnits="userSpaceOnUse" x="589.9" y="252.5" width="26.0" height="27.0"><text transform="translate(594.59,275.50) scale(1.2165,1.0000)" font-size="28.7" fill="#fff" stroke="#fff" stroke-width="0.45">2</text></mask>
<g mask="url(#m13)"><text transform="translate(594.14,275.50) scale(1.2165,1.0000)" font-size="28.7" fill="#000" stroke="#000" stroke-width="0.45">2</text></g>
<mask id="m14" maskUnits="userSpaceOnUse" x="449.5" y="274.6" width="25.8" height="27.3"><text transform="translate(454.12,297.60) scale(1.1643,1.0000)" font-size="28.7" fill="#fff" stroke="#fff" stroke-width="0.45">3</text></mask>
<g mask="url(#m14)"><text transform="translate(453.67,297.60) scale(1.1643,1.0000)" font-size="28.7" fill="#000" stroke="#000" stroke-width="0.45">3</text></g>
<mask id="m15" maskUnits="userSpaceOnUse" x="448.9" y="456.1" width="26.1" height="26.9"><text transform="translate(454.52,479.00) scale(1.0588,1.0000)" font-size="28.7" fill="#fff" stroke="#fff" stroke-width="0.45">4</text></mask>
<g mask="url(#m15)"><text transform="translate(454.07,479.00) scale(1.0588,1.0000)" font-size="28.7" fill="#000" stroke="#000" stroke-width="0.45">4</text></g>
<line x1="479.3" y1="81.5" x2="581.6" y2="81.5" stroke="#0000ff" stroke-width="4.0"/>
<line x1="479.2" y1="131" x2="579.2" y2="131" stroke="#ff0000" stroke-width="1.6" stroke-dasharray="27.6 8.55"/>
<mask id="m16" maskUnits="userSpaceOnUse" x="605.8" y="64.5" width="64.9" height="27.5"><text transform="translate(609.16,87.60) scale(1.1350,1.0000)" font-size="28.7" fill="#fff" stroke="#fff" stroke-width="0.45">1.40</text></mask>
<g mask="url(#m16)"><text transform="translate(608.71,87.60) scale(1.1350,1.0000)" font-size="28.7" fill="#0000ff" stroke="#0000ff" stroke-width="0.45">1.40</text></g>
<mask id="m17" maskUnits="userSpaceOnUse" x="671.3" y="64.0" width="32.5" height="27.6"><text transform="translate(678.04,87.60) scale(0.7821,1.0426)" font-size="28.7" fill="#fff" stroke="#fff" stroke-width="0.95" font-style="italic">M</text></mask>
<g mask="url(#m17)"><text transform="translate(677.59,87.60) scale(0.7821,1.0426)" font-size="28.7" fill="#0000ff" stroke="#0000ff" stroke-width="0.95" font-style="italic">M</text></g>
<circle cx="706.9" cy="89.35" r="5.6" fill="none" stroke="#0000ff" stroke-width="2.0"/>
<circle cx="706.9" cy="89.35" r="2.15" fill="#0000ff"/>
<mask id="m18" maskUnits="userSpaceOnUse" x="605.8" y="113.7" width="64.9" height="27.5"><text transform="translate(609.16,136.80) scale(1.1357,1.0000)" font-size="28.7" fill="#fff" stroke="#fff" stroke-width="0.45">1.85</text></mask>
<g mask="url(#m18)"><text transform="translate(608.71,136.80) scale(1.1357,1.0000)" font-size="28.7" fill="#ff0000" stroke="#ff0000" stroke-width="0.45">1.85</text></g>
<mask id="m19" maskUnits="userSpaceOnUse" x="671.3" y="113.2" width="32.5" height="27.6"><text transform="translate(678.04,136.80) scale(0.7821,1.0426)" font-size="28.7" fill="#fff" stroke="#fff" stroke-width="0.95" font-style="italic">M</text></mask>
<g mask="url(#m19)"><text transform="translate(677.59,136.80) scale(0.7821,1.0426)" font-size="28.7" fill="#ff0000" stroke="#ff0000" stroke-width="0.95" font-style="italic">M</text></g>
<circle cx="706.9" cy="138.55" r="5.6" fill="none" stroke="#ff0000" stroke-width="2.0"/>
<circle cx="706.9" cy="138.55" r="2.15" fill="#ff0000"/>
<mask id="m20" maskUnits="userSpaceOnUse" x="372.6" y="598.8" width="51.2" height="32.3"><text transform="translate(378.14,621.30) scale(1.1052,0.9288)" font-size="28.7" fill="#fff" stroke="#fff" stroke-width="0.35">log</text></mask>
<g mask="url(#m20)"><text transform="translate(377.69,621.30) scale(1.1052,0.9288)" font-size="28.7" fill="#000" stroke="#000" stroke-width="0.35">log</text></g>
<mask id="m21" maskUnits="userSpaceOnUse" x="413.8" y="613.8" width="31.1" height="18.9"><text transform="translate(418.21,628.60) scale(1.3278,1.0000)" font-size="16.2" fill="#fff" stroke="#fff" stroke-width="0.6">10</text></mask>
<g mask="url(#m21)"><text transform="translate(417.91,628.60) scale(1.3278,1.0000)" font-size="16.2" fill="#000" stroke="#000" stroke-width="0.6">10</text></g>
<ellipse cx="458.4" cy="615.0" rx="4.3" ry="7.2" transform="rotate(40 458.4 615.0)" fill="none" stroke="#000" stroke-width="2.0"/>
<line x1="447.7" y1="626.4" x2="453.6" y2="614.2" stroke="#000" stroke-width="2.3"/>
<mask id="m22" maskUnits="userSpaceOnUse" x="478.7" y="596.2" width="18.6" height="35.6"><text transform="translate(483.80,621.30) scale(0.8948,1.0594)" font-size="28.7" fill="#fff" stroke="#fff" stroke-width="0.45">(</text></mask>
<g mask="url(#m22)"><text transform="translate(483.35,621.30) scale(0.8948,1.0594)" font-size="28.7" fill="#000" stroke="#000" stroke-width="0.45">(</text></g>
<mask id="m23" maskUnits="userSpaceOnUse" x="488.4" y="602.6" width="25.8" height="28.9"><text transform="translate(493.21,621.30) scale(1.1058,1.0000)" font-size="28.7" fill="#fff" stroke="#fff" stroke-width="0.35">g</text></mask>
<g mask="url(#m23)"><text transform="translate(492.76,621.30) scale(1.1058,1.0000)" font-size="28.7" fill="#000" stroke="#000" stroke-width="0.35">g</text></g>
<mask id="m24" maskUnits="userSpaceOnUse" x="518.3" y="603.8" width="53.1" height="21.8"><text transform="translate(523.13,621.30) scale(1.2291,1.0000)" font-size="28.7" fill="#fff" stroke="#fff" stroke-width="0.35">cm</text></mask>
<g mask="url(#m24)"><text transform="translate(522.68,621.30) scale(1.2291,1.0000)" font-size="28.7" fill="#000" stroke="#000" stroke-width="0.35">cm</text></g>
<line x1="568.5" y1="609.1" x2="576.3" y2="609.1" stroke="#000" stroke-width="1.35"/>
<mask id="m25" maskUnits="userSpaceOnUse" x="572.7" y="599.9" width="22.1" height="19.2"><text transform="translate(577.86,614.90) scale(1.4294,1.0000)" font-size="16.6" fill="#fff" stroke="#fff" stroke-width="0.6">3</text></mask>
<g mask="url(#m25)"><text transform="translate(577.56,614.90) scale(1.4294,1.0000)" font-size="16.6" fill="#000" stroke="#000" stroke-width="0.6">3</text></g>
<mask id="m26" maskUnits="userSpaceOnUse" x="586.0" y="596.2" width="18.2" height="35.6"><text transform="translate(591.45,621.30) scale(0.8406,1.0594)" font-size="28.7" fill="#fff" stroke="#fff" stroke-width="0.45">)</text></mask>
<g mask="url(#m26)"><text transform="translate(591.00,621.30) scale(0.8406,1.0594)" font-size="28.7" fill="#000" stroke="#000" stroke-width="0.45">)</text></g>
<g transform="translate(27.6,258) rotate(-90)">
<mask id="m27" maskUnits="userSpaceOnUse" x="-6.0" y="-23.9" width="26.3" height="27.9"><text transform="translate(0.62,0.00) scale(0.9430,1.0586)" font-size="28.7" fill="#fff" stroke="#fff" stroke-width="0.6" font-style="italic">L</text></mask>
<g mask="url(#m27)"><text transform="translate(0.22,0.00) scale(0.9430,1.0586)" font-size="28.7" fill="#000" stroke="#000" stroke-width="0.6" font-style="italic">L</text></g>
<mask id="m28" maskUnits="userSpaceOnUse" x="11.3" y="-5.9" width="18.3" height="17.7"><text transform="translate(17.21,7.80) scale(0.9628,1.0000)" font-size="20.5" fill="#fff" stroke="#fff" stroke-width="0.6">r</text></mask>
<g mask="url(#m28)"><text transform="translate(16.91,7.80) scale(0.9628,1.0000)" font-size="20.5" fill="#000" stroke="#000" stroke-width="0.6">r</text></g>
<mask id="m29" maskUnits="userSpaceOnUse" x="12.4" y="-24.1" width="25.8" height="16.2"><text transform="translate(18.01,-9.80) scale(0.9638,1.0000)" font-size="21.5" fill="#fff" stroke="#fff" stroke-width="0.8">∞</text></mask>
<g mask="url(#m29)"><text transform="translate(17.81,-9.80) scale(0.9638,1.0000)" font-size="21.5" fill="#000" stroke="#000" stroke-width="0.8">∞</text></g>
<line x1="41.2" y1="5.0" x2="57.3" y2="-21.4" stroke="#000" stroke-width="1.8"/>
<mask id="m30" maskUnits="userSpaceOnUse" x="64.6" y="-23.9" width="25.2" height="27.9"><text transform="translate(71.20,0.00) scale(0.8694,1.0586)" font-size="28.7" fill="#fff" stroke="#fff" stroke-width="0.6" font-style="italic">L</text></mask>
<g mask="url(#m30)"><text transform="translate(70.80,0.00) scale(0.8694,1.0586)" font-size="28.7" fill="#000" stroke="#000" stroke-width="0.6" font-style="italic">L</text></g>
<circle cx="93.9" cy="0.9" r="5.9" fill="none" stroke="#000" stroke-width="1.5"/>
<circle cx="93.9" cy="0.9" r="1.7" fill="#000"/>
</g>
</svg>
</body></html>
